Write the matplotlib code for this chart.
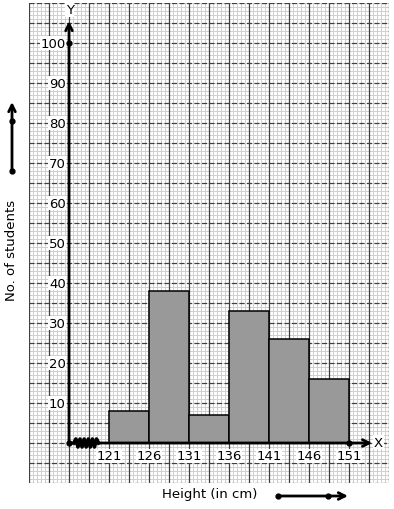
"""Histogram of student heights drawn on graph paper."""
import numpy as np
import matplotlib
matplotlib.use('Agg')
from matplotlib import pyplot as plt

# data
class_starts = [121, 126, 131, 136, 141, 146]
class_width = 5
students = [8, 38, 7, 33, 26, 16]
x_ticks = [121, 126, 131, 136, 141, 146, 151]
y_ticks = [10, 20, 30, 40, 50, 60, 70, 80, 90, 100]

origin_x = 116
x_min, x_max = 111, 156
y_min, y_max = -10, 110

W, H = 394, 510
fig = plt.figure(figsize=(W / 100, H / 100), dpi=100)
ax = fig.add_axes([29 / W, 26 / H, 360 / W, 480 / H])
ax.set_xlim(x_min, x_max)
ax.set_ylim(y_min, y_max)
ax.axis('off')

#
# Graph paper
#
for x in np.arange(x_min, x_max + 0.01, 0.5):
    ax.axvline(x, color='#cfcfcf', lw=0.7, zorder=0)
for y in np.arange(y_min, y_max + 0.01, 1):
    ax.axhline(y, color='#cfcfcf', lw=0.7, zorder=0)
for x in np.arange(x_min, x_max + 0.01, 2.5):
    ax.axvline(x, color='#404040', lw=0.9, zorder=1)
for y in np.arange(y_min, y_max + 0.01, 5):
    ax.axhline(y, color='#404040', lw=0.9, ls=(0, (4, 2)), zorder=1)

#
# Bars
#
ax.bar(class_starts, students, width=class_width, align='edge',
       color='#999999', edgecolor='black', lw=1.1, zorder=3)

#
# Axes with arrows
#
arrow_kw = dict(arrowstyle='->', lw=2, color='black', shrinkA=0,
                shrinkB=0, mutation_scale=12)
ax.annotate('', xy=(origin_x, 105.5), xytext=(origin_x, 0),
            arrowprops=arrow_kw, zorder=4)
ax.annotate('', xy=(153.9, 0), xytext=(origin_x, 0),
            arrowprops=arrow_kw, zorder=4)
ax.plot([origin_x, origin_x, 151], [0, 100, 0], 'ko', ms=3.5, zorder=5)

## axis break zigzag
zx = np.linspace(116.6, 119.7, 13)
zy = np.array([1.0 if i % 2 else -1.0 for i in range(13)])
zy[0] = zy[-1] = 0
ax.plot(zx, zy, 'k-', lw=2.6, zorder=5)

bbox = dict(facecolor='white', edgecolor='none', pad=0.5)
for t in y_ticks:
    ax.text(origin_x - 0.4, t, str(t), ha='right', va='center',
            fontsize=9.5, bbox=bbox, zorder=6)
for t in x_ticks:
    ax.text(t, -1.6, str(t), ha='center', va='top',
            fontsize=9.5, bbox=bbox, zorder=6)
ax.text(origin_x + 0.1, 108.3, 'Y', ha='center', va='center',
        fontsize=9.5, bbox=bbox, zorder=6)
ax.text(154.7, 0.2, 'X', ha='center', va='center',
        fontsize=9.5, bbox=bbox, zorder=6)

#
# Labels outside the paper
#
fig.text(12 / W, 1 - 250 / H, 'No. of students', rotation=90,
         ha='center', va='center', fontsize=9.5)
fig.text(210 / W, 1 - 495 / H, 'Height (in cm)', ha='center',
         va='center', fontsize=9.5)

fig.patches.append(matplotlib.patches.FancyArrowPatch(
    (12 / W, 1 - 172 / H), (12 / W, 1 - 103 / H),
    transform=fig.transFigure, **arrow_kw))
fig.lines.append(matplotlib.lines.Line2D(
    [12 / W, 12 / W], [1 - 172 / H, 1 - 122 / H], marker='o', ms=3.5,
    ls='none', color='black', transform=fig.transFigure))
fig.patches.append(matplotlib.patches.FancyArrowPatch(
    (278 / W, 1 - 497 / H), (348 / W, 1 - 497 / H),
    transform=fig.transFigure, **arrow_kw))
fig.lines.append(matplotlib.lines.Line2D(
    [278 / W, 328 / W], [1 - 497 / H, 1 - 497 / H], marker='o', ms=3.5,
    ls='none', color='black', transform=fig.transFigure))

plt.savefig('out.png', dpi=100)
